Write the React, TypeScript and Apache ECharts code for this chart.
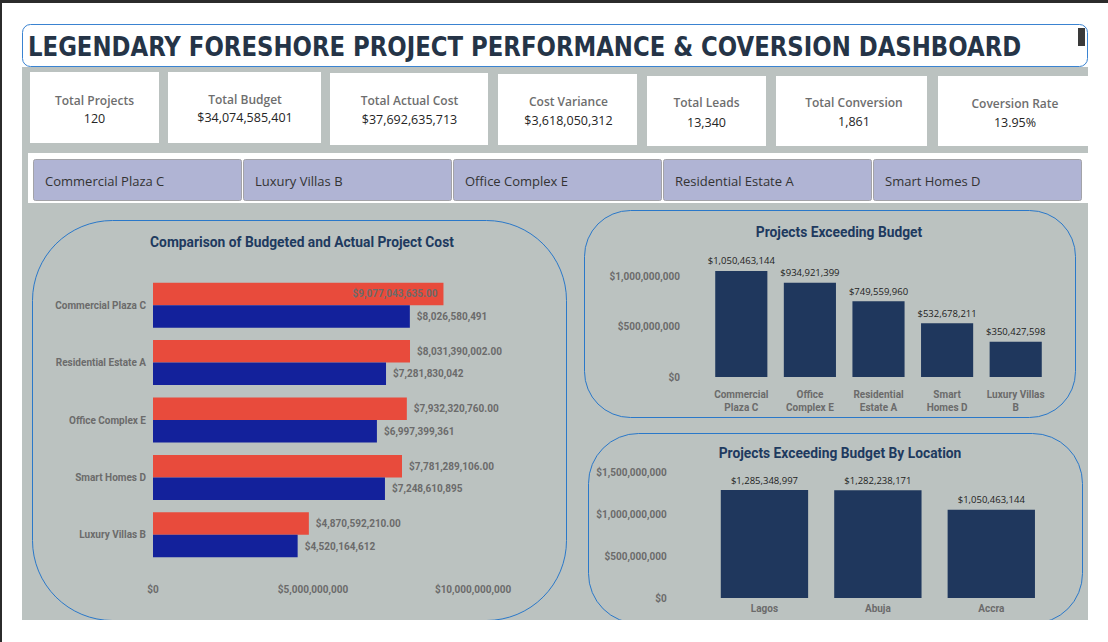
import React, { useEffect, useRef } from "react";
import * as echarts from "echarts";

// KPI tiles
const kpiLabels = ["Total Projects", "Total Budget", "Total Actual Cost", "Cost Variance", "Total Leads", "Total Conversion", "Coversion Rate"];
const kpiValues = ["120", "$34,074,585,401", "$37,692,635,713", "$3,618,050,312", "13,340", "1,861", "13.95%"];

// Project slicer
const filterProjects = ["Commercial Plaza C", "Luxury Villas B", "Office Complex E", "Residential Estate A", "Smart Homes D"];

// Budgeted vs actual cost per project
const costProjects = ["Commercial Plaza C", "Residential Estate A", "Office Complex E", "Smart Homes D", "Luxury Villas B"];
const actualCost = [9077043635, 8031390002, 7932320760, 7781289106, 4870592210];
const budgetCost = [8026580491, 7281830042, 6997399361, 7248610895, 4520164612];

// Overrun per project
const overProjects = ["Commercial\nPlaza C", "Office\nComplex E", "Residential\nEstate A", "Smart\nHomes D", "Luxury Villas\nB"];
const overBudget = [1050463144, 934921399, 749559960, 532678211, 350427598];

// Overrun per location
const locations = ["Lagos", "Abuja", "Accra"];
const locationOver = [1285348997, 1282238171, 1050463144];

const DASHBOARD_TITLE = "LEGENDARY FORESHORE PROJECT PERFORMANCE & COVERSION DASHBOARD";

const usd = (v: number) => "$" + Math.round(v).toLocaleString("en-US");
const usd2 = (v: number) => "$" + v.toLocaleString("en-US", { minimumFractionDigits: 2, maximumFractionDigits: 2 });

const AXIS_GREY = "#6b6b6b";
const NAVY = "#1f375d";
const PANEL_BLUE = "#2a78c9";
const AXIS_FONT = "Roboto, 'DejaVu Sans', sans-serif";
const UI_FONT = "'Open Sans', 'Noto Sans', sans-serif";
const HEADER_FONT = "bold 27px 'DejaVu Sans Condensed', 'Liberation Sans', sans-serif";
const HEADER_WIDTH = 994;

// tile rectangles: x, y, w, h
const cardBoxes = [
  [30, 72, 129, 71],
  [168, 72, 153, 71],
  [330, 73, 158, 72],
  [498, 74, 139, 71],
  [647, 76, 119, 70],
  [776, 76, 151, 70],
  [938, 76, 170, 70],
];
const cardTextX = [94.5, 245, 409.5, 568.5, 706.5, 854, 1015];
const cardLabelY = [100, 99.5, 100.5, 101.5, 102.5, 102.5, 103];
const cardValueY = [118.5, 117.5, 119.5, 120, 122, 121.5, 122];

// horizontal squeeze so the header spans its box
function headerScale(): number {
  const ctx = document.createElement("canvas").getContext("2d");
  if (!ctx) return 1;
  ctx.font = HEADER_FONT;
  const w = ctx.measureText(DASHBOARD_TITLE).width;
  return w > 0 ? Math.min(1, HEADER_WIDTH / w) : 1;
}

function buildGraphics() {
  const els: any[] = [];
  // window frame
  els.push({ type: "rect", z: -20, shape: { x: 0, y: 0, width: 1108, height: 3 }, style: { fill: "#2b2b2b" } });
  els.push({ type: "rect", z: -20, shape: { x: 0, y: 0, width: 2, height: 642 }, style: { fill: "#2b2b2b" } });
  // header
  els.push({ type: "rect", z: -20, shape: { x: 22.5, y: 24.5, width: 1065, height: 42, r: 8 }, style: { fill: "#ffffff", stroke: "#3a83d1", lineWidth: 1 } });
  els.push({ type: "rect", z: -19, shape: { x: 1078, y: 28, width: 7, height: 18 }, style: { fill: "#3a3a3a" } });
  els.push({
    type: "text", z: 10, x: 28, y: 47, scaleX: headerScale(),
    style: { text: DASHBOARD_TITLE, fill: "#253447", font: HEADER_FONT, verticalAlign: "middle", align: "left" },
  });
  // grey canvas
  els.push({ type: "rect", z: -20, shape: { x: 22, y: 67, width: 1066, height: 553 }, style: { fill: "#bbc2c0" } });
  // KPI tiles
  cardBoxes.forEach((b, i) => {
    els.push({ type: "rect", z: -18, shape: { x: b[0], y: b[1], width: b[2], height: b[3] }, style: { fill: "#ffffff" } });
    els.push({
      type: "text", z: 10, x: cardTextX[i], y: cardLabelY[i],
      style: { text: kpiLabels[i], fill: "#6e6e6e", font: `600 12px ${UI_FONT}`, align: "center", verticalAlign: "middle" },
    });
    els.push({
      type: "text", z: 10, x: cardTextX[i], y: cardValueY[i],
      style: { text: kpiValues[i], fill: "#252525", font: `12.5px ${UI_FONT}`, align: "center", verticalAlign: "middle" },
    });
  });
  // slicer band
  els.push({ type: "rect", z: -18, shape: { x: 28, y: 153, width: 1060, height: 50 }, style: { fill: "#ffffff" } });
  filterProjects.forEach((p, i) => {
    const x = 33 + i * 210;
    els.push({ type: "rect", z: -17, shape: { x: x + 0.5, y: 159.5, width: 208, height: 41, r: 2 }, style: { fill: "#b0b4d4", stroke: "#a3a3a8", lineWidth: 1 } });
    els.push({
      type: "text", z: 10, x: x + 12, y: 180.5,
      style: { text: p, fill: "#333333", font: `13px ${UI_FONT}`, align: "left", verticalAlign: "middle" },
    });
  });
  // chart panels
  els.push({ type: "rect", z: -16, shape: { x: 32.5, y: 220.5, width: 534, height: 400, r: 80 }, style: { fill: "none", stroke: PANEL_BLUE, lineWidth: 1 } });
  els.push({ type: "rect", z: -16, shape: { x: 584.5, y: 210.5, width: 491, height: 207, r: 46 }, style: { fill: "none", stroke: PANEL_BLUE, lineWidth: 1 } });
  els.push({ type: "rect", z: -16, shape: { x: 588.5, y: 433.5, width: 494, height: 190, r: 50 }, style: { fill: "none", stroke: PANEL_BLUE, lineWidth: 1 } });
  // cover below the canvas
  els.push({ type: "rect", z: -15, shape: { x: 2, y: 620, width: 1106, height: 22 }, style: { fill: "#ffffff" } });

  const titleFont = `bold 13.8px ${AXIS_FONT}`;
  els.push({ type: "text", z: 10, x: 302, y: 242, style: { text: "Comparison of Budgeted and Actual Project Cost", fill: "#1e3a5f", font: titleFont, align: "center", verticalAlign: "middle" } });
  els.push({ type: "text", z: 10, x: 839, y: 232, style: { text: "Projects Exceeding Budget", fill: "#1e3a5f", font: titleFont, align: "center", verticalAlign: "middle" } });
  els.push({ type: "text", z: 10, x: 840, y: 453, style: { text: "Projects Exceeding Budget By Location", fill: "#1e3a5f", font: titleFont, align: "center", verticalAlign: "middle" } });
  return els;
}

const axisLabelStyle = { color: AXIS_GREY, fontSize: 10, fontWeight: "bold" as const, fontFamily: AXIS_FONT };
const valueLabelStyle = { color: "#1d1d1d", fontSize: 9.5, fontFamily: UI_FONT };

export default function App() {
  const ref = useRef<HTMLDivElement>(null);

  useEffect(() => {
    if (!ref.current) return;
    const chart = echarts.init(ref.current, undefined, { renderer: "svg" });
    chart.setOption({
      animation: false,
      backgroundColor: "#ffffff",
      graphic: { elements: buildGraphics() },
      grid: [
        { left: 153, right: 635, top: 276.5, bottom: 78.5, containLabel: false },
        { left: 707, right: 58, top: 266, bottom: 265, containLabel: false },
        { left: 707.75, right: 60, top: 472, bottom: 44, containLabel: false },
      ],
      xAxis: [
        {
          type: "value", gridIndex: 0, min: 0, max: 10000000000, interval: 5000000000,
          axisLine: { show: false }, axisTick: { show: false }, splitLine: { show: false },
          axisLabel: { ...axisLabelStyle, margin: 21, formatter: (v: number) => usd(v) },
        },
        {
          type: "category", gridIndex: 1, data: overProjects,
          axisLine: { show: false }, axisTick: { show: false },
          axisLabel: { ...axisLabelStyle, margin: 11, lineHeight: 13, interval: 0 },
        },
        {
          type: "category", gridIndex: 2, data: locations,
          axisLine: { show: false }, axisTick: { show: false },
          axisLabel: { ...axisLabelStyle, margin: 5, interval: 0 },
        },
      ],
      yAxis: [
        {
          type: "category", gridIndex: 0, data: costProjects, inverse: true,
          axisLine: { show: false }, axisTick: { show: false },
          axisLabel: { ...axisLabelStyle, margin: 7, interval: 0 },
        },
        {
          type: "value", gridIndex: 1, min: 0, max: 1100000000, interval: 500000000,
          axisLine: { show: false }, axisTick: { show: false }, splitLine: { show: false },
          axisLabel: { ...axisLabelStyle, margin: 27, showMaxLabel: false, formatter: (v: number) => usd(v) },
        },
        {
          type: "value", gridIndex: 2, min: 0, max: 1500000000, interval: 500000000,
          axisLine: { show: false }, axisTick: { show: false }, splitLine: { show: false },
          axisLabel: { ...axisLabelStyle, margin: 41, formatter: (v: number) => usd(v) },
        },
      ],
      series: [
        {
          name: "Actual Cost", type: "bar", xAxisIndex: 0, yAxisIndex: 0,
          barGap: "0%", barCategoryGap: "21.6%",
          itemStyle: { color: "#e84b3c" },
          data: actualCost.map((v) => ({
            value: v,
            label: v > 9000000000 ? { position: "insideRight", distance: 6 } : { position: "right", distance: 7 },
          })),
          label: { show: true, ...axisLabelStyle, formatter: (p: any) => usd2(p.value) },
        },
        {
          name: "Budget", type: "bar", xAxisIndex: 0, yAxisIndex: 0,
          barGap: "0%", barCategoryGap: "21.6%",
          itemStyle: { color: "#13219b" },
          data: budgetCost,
          label: { show: true, position: "right", distance: 7, ...axisLabelStyle, formatter: (p: any) => usd(p.value) },
        },
        {
          name: "Over Budget", type: "bar", xAxisIndex: 1, yAxisIndex: 1,
          barCategoryGap: "24%",
          itemStyle: { color: NAVY },
          data: overBudget,
          label: { show: true, position: "top", distance: 5, ...valueLabelStyle, formatter: (p: any) => usd(p.value) },
        },
        {
          name: "Over Budget by Location", type: "bar", xAxisIndex: 2, yAxisIndex: 2,
          barCategoryGap: "23%",
          itemStyle: { color: NAVY },
          data: locationOver,
          label: { show: true, position: "top", distance: 5, ...valueLabelStyle, formatter: (p: any) => usd(p.value) },
        },
      ],
    });
    return () => chart.dispose();
  }, []);

  return <div ref={ref} style={{ position: "fixed", left: 0, top: 0, width: 1108, height: 642 }} />;
}
